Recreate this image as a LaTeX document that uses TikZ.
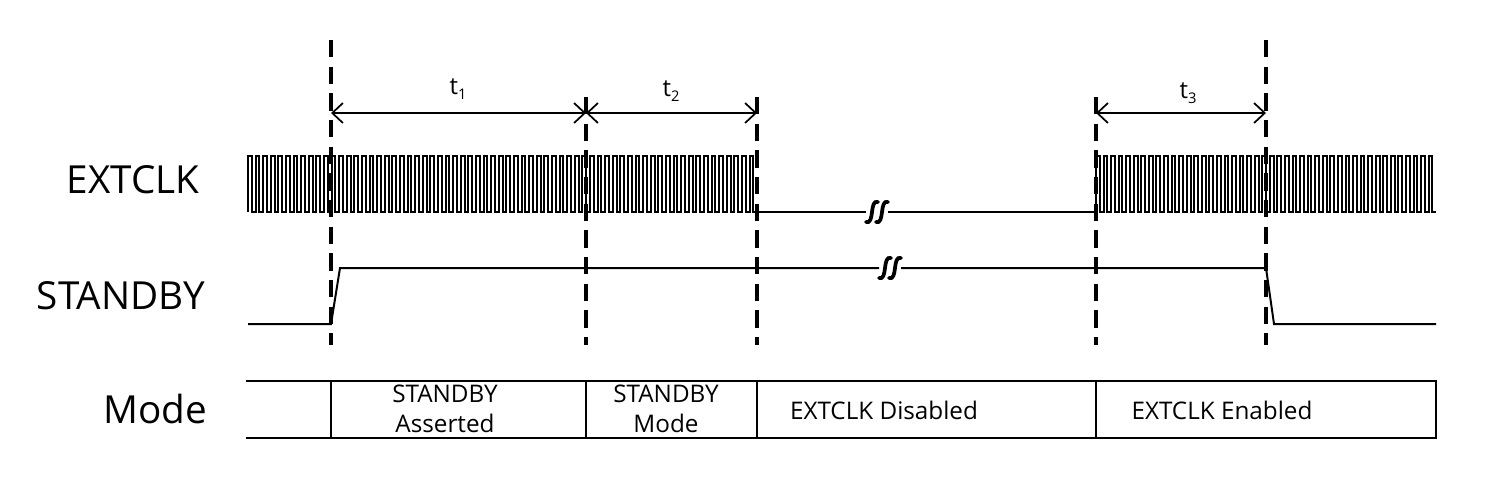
\documentclass[tikz,border=0pt]{standalone}
\usepackage{fontspec}
\setmainfont{Open Sans}
\usetikzlibrary{arrows.meta}
\newcommand{\tsub}[1]{\raisebox{-0.35ex}{\fontsize{11}{11}\selectfont #1}}
\begin{document}
\begin{tikzpicture}[x=0.75pt,y=-0.75pt,
  sig/.style={line width=1.5pt, line join=miter},
  vdash/.style={line width=2.9pt, dash pattern=on 13pt off 7pt},
  dim/.style={line width=1.1pt, {Straight Barb[length=8pt,width=15pt,line width=1.3pt]}-{Straight Barb[length=8pt,width=15pt,line width=1.3pt]}},
  brk/.style={line width=2.8pt, line cap=round},
  signame/.style={font=\fontsize{29}{34}\selectfont, anchor=base},
  cell/.style={font=\fontsize{18.2}{22.5}\selectfont, align=center},
  tlab/.style={font=\fontsize{18}{22}\selectfont},
  tbl/.style={line width=1.5pt}
]
\useasboundingbox (0,0) rectangle (1494,480);

% signal names
\node[signame] (nclk) at (133,193) {EXTCLK};
\node[signame] (nstb) at (121,309) {STANDBY};
\node[signame] (nmode) at (155,423) {Mode};

% EXTCLK waveform
\draw[sig] (248,212) \foreach \i in {1,...,67}{ -- ++(0,-56) -- ++(3.8,0) -- ++(0,56) -- ++(3.8,0)} -- (866,212);
\draw[sig] (888,212) -- (1096,212) \foreach \i in {1,...,45}{ -- ++(0,-56) -- ++(3.78,0) -- ++(0,56) -- ++(3.78,0)};

% STANDBY waveform
\draw[sig] (248,324) -- (331,324) -- (340,268) -- (879,268);
\draw[sig] (901,268) -- (1266,268) -- (1274,324) -- (1436,324);

% break symbols
\foreach \bx/\by in {872/212, 882/212, 885/268, 895/268}{
  \draw[brk] (\bx-6,\by+10) .. controls (\bx+3,\by+13) and (\bx-3,\by-13) .. (\bx+6,\by-10);
}

% dashed markers
\coordinate (d1t) at (331,40);   \coordinate (d1b) at (331,345);
\coordinate (d2t) at (586,97);   \coordinate (d2b) at (586,345);
\coordinate (d3t) at (757,97);   \coordinate (d3b) at (757,345);
\coordinate (d4t) at (1096,97);  \coordinate (d4b) at (1096,345);
\coordinate (d5t) at (1266,40);  \coordinate (d5b) at (1266,345);
\foreach \d in {d1,d2,d3,d4,d5}{ \draw[vdash] (\d t) -- (\d b); }

% timing arrows
\coordinate (a1) at (331,113);
\coordinate (a2) at (586,113);
\coordinate (a3) at (757,113);
\coordinate (a4) at (1096,113);
\coordinate (a5) at (1266,113);
\draw[dim] (a1) -- (a2);
\draw[dim] (a2) -- (a3);
\draw[dim] (a4) -- (a5);
\node[tlab] (t1) at (458,89) {t\tsub{1}};
\node[tlab] (t2) at (671,91) {t\tsub{2}};
\node[tlab] (t3) at (1188,93) {t\tsub{3}};

% mode table
\coordinate (mtl) at (246,381); \coordinate (mtr) at (1436,381);
\coordinate (mbl) at (246,438); \coordinate (mbr) at (1436,438);
\draw[tbl] (mtl) -- (mtr) -- (mbr) -- (mbl);
\foreach \x in {331,586,757,1096}{ \draw[tbl] (\x,381) -- (\x,438); }
\node[cell] (m1) at (445,409) {STANDBY\\Asserted};
\node[cell] (m2) at (666,409) {STANDBY\\Mode};
\node[cell] (m3) at (884,410) {EXTCLK Disabled};
\node[cell] (m4) at (1222,410) {EXTCLK Enabled};
\end{tikzpicture}
\end{document}
